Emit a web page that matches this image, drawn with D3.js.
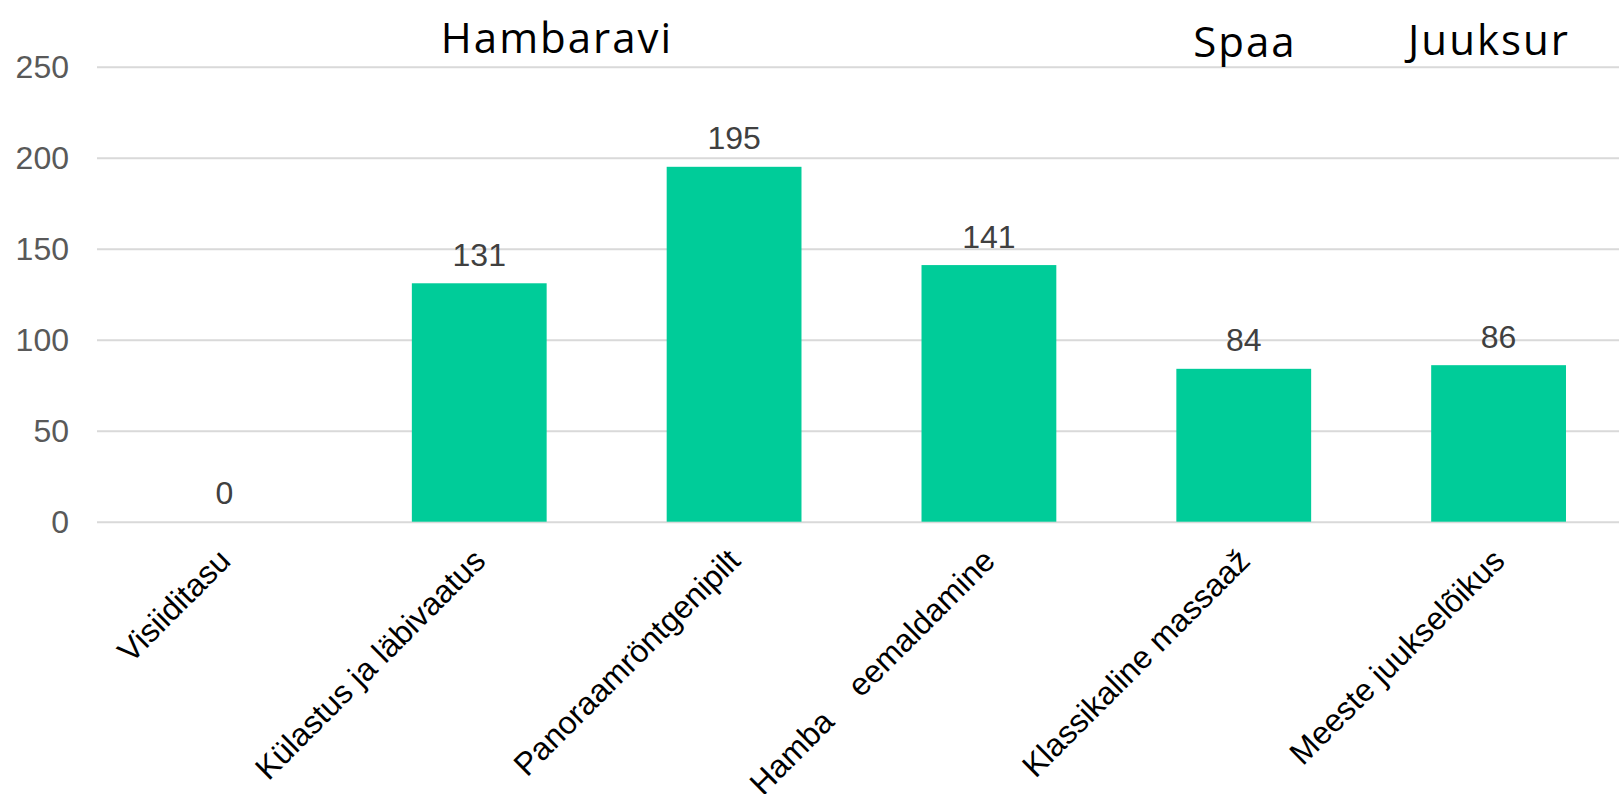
<!DOCTYPE html>
<html lang="et">
<head>
  <meta charset="utf-8" />
  <style>
    body { margin: 0; background: #fff; }
    svg { display: block; }
    .grid line { stroke: #d9d9d9; stroke-width: 2px; }
    .grid path { display: none; }
    .ytick text { fill: #595959; font: 32px "Liberation Sans", Arial, sans-serif; }
    .bar { fill: #00cc99; }
    .value { fill: #404040; font: 32px "Liberation Sans", Arial, sans-serif; }
    .cat { fill: #000; font: 32px "Liberation Sans", Arial, sans-serif; white-space: pre; }
    .group { fill: #000; font: 42px "Open Sans", sans-serif; letter-spacing: 2px; }
  </style>
</head>
<body>
<svg width="1619" height="794"></svg>
<script src="https://cdnjs.cloudflare.com/ajax/libs/d3/7.8.5/d3.min.js"></script>
<script>
var categories = ["Visiiditasu", "Külastus ja läbivaatus", "Panoraamröntgenipilt",
                  "Hamba    eemaldamine", "Klassikaline massaaž", "Meeste juukselõikus"],
    values = [0, 131, 195, 141, 84, 86],
    yTicks = [0, 50, 100, 150, 200, 250],
    groups = ["Hambaravi", "Spaa", "Juuksur"];

var svg = d3.select("svg"),
    plotLeft = 97,
    plotRight = 1626,
    plotTop = 66.7,
    plotBottom = 521.7;

var x = d3.scaleBand()
    .domain(categories)
    .range([plotLeft, plotRight])
    .paddingInner(0.471)
    .paddingOuter(0.2355);

var y = d3.scaleLinear()
    .domain([0, 250])
    .range([plotBottom, plotTop]);

// gridlines incl. the zero line
svg.append("g")
    .attr("class", "grid")
    .attr("transform", "translate(" + plotLeft + ",0)")
    .call(d3.axisLeft(y).tickValues(yTicks).tickSize(-(plotRight - plotLeft)).tickFormat(""));

// y tick labels
svg.append("g")
    .attr("class", "ytick")
    .selectAll("text")
    .data(yTicks)
  .enter().append("text")
    .attr("x", 69)
    .attr("y", function(d) { return y(d); })
    .attr("dy", "0.35em")
    .attr("text-anchor", "end")
    .text(function(d) { return d; });

// bars
svg.append("g")
  .selectAll("rect")
    .data(values)
  .enter().append("rect")
    .attr("class", "bar")
    .attr("x", function(d, i) { return x(categories[i]); })
    .attr("width", x.bandwidth())
    .attr("y", function(d) { return y(d); })
    .attr("height", function(d) { return y(0) - y(d); });

// value labels
svg.append("g")
  .selectAll("text")
    .data(values)
  .enter().append("text")
    .attr("class", "value")
    .attr("x", function(d, i) { return x(categories[i]) + x.bandwidth() / 2; })
    .attr("y", function(d) { return y(d) - 17.5; })
    .attr("text-anchor", "middle")
    .text(function(d) { return d; });

// rotated category labels
svg.append("g")
  .selectAll("text")
    .data(categories)
  .enter().append("text")
    .attr("class", "cat")
    .attr("text-anchor", "end")
    .attr("transform", function(d) {
      return "translate(" + (x(d) + x.bandwidth() / 2 + 8) + "," + (plotBottom + 41) + ") rotate(-45)";
    })
    .text(function(d) { return d; });

// group headers above the chart
var groupX = [557, 1245, 1489],
    groupY = [52.5, 57, 55];

svg.append("g")
  .selectAll("text")
    .data(groups)
  .enter().append("text")
    .attr("class", "group")
    .attr("x", function(d, i) { return groupX[i]; })
    .attr("y", function(d, i) { return groupY[i]; })
    .attr("text-anchor", "middle")
    .text(function(d) { return d; });
</script>
</body>
</html>
